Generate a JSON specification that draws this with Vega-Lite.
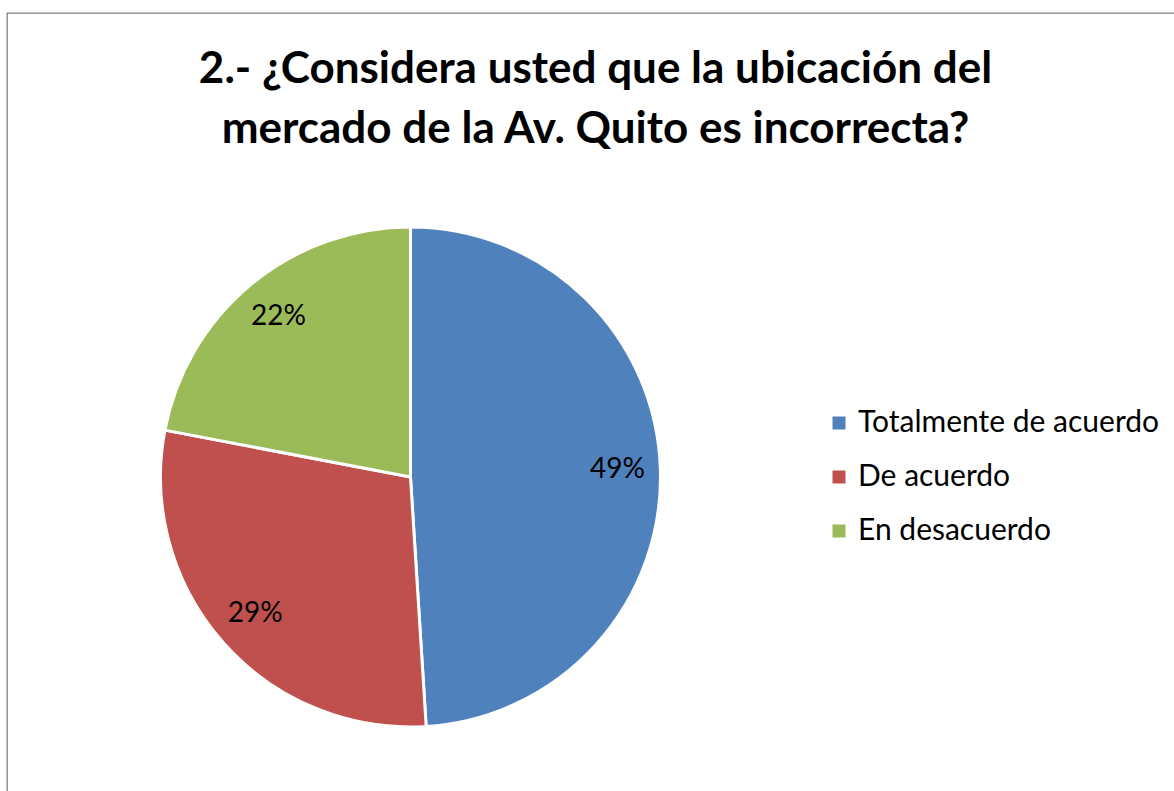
{
  "$schema": "https://vega.github.io/schema/vega-lite/v6.json",
  "autosize": {"type": "none"},
  "padding": {"left": 7, "top": 13, "right": -10, "bottom": -10},
  "width": 1177,
  "height": 788,
  "background": "white",
  "config": {
    "view": {"stroke": "#7f7f7f", "strokeWidth": 1.3},
    "font": "Lato"
  },
  "title": {
    "text": ["2.- ¿Considera usted que la ubicación del", "mercado de la Av. Quito es incorrecta?"],
    "font": "Lato",
    "fontSize": 44,
    "fontWeight": "bold",
    "color": "black",
    "anchor": "middle",
    "frame": "group",
    "baseline": "top",
    "offset": -139,
    "lineHeight": 60
  },
  "data": {
    "values": [
      {"respuesta": "Totalmente de acuerdo", "valor": 49, "orden": 1, "etiqueta": "49%"},
      {"respuesta": "De acuerdo", "valor": 29, "orden": 2, "etiqueta": "29%"},
      {"respuesta": "En desacuerdo", "valor": 22, "orden": 3, "etiqueta": "22%"}
    ]
  },
  "encoding": {
    "theta": {"field": "valor", "type": "quantitative", "stack": true},
    "order": {"field": "orden", "type": "quantitative"},
    "x": {"datum": 0.3428, "type": "quantitative", "scale": {"domain": [0, 1]}, "axis": null},
    "y": {"datum": 0.5888, "type": "quantitative", "scale": {"domain": [1, 0]}, "axis": null},
    "color": {
      "field": "respuesta",
      "type": "nominal",
      "scale": {
        "domain": ["Totalmente de acuerdo", "De acuerdo", "En desacuerdo"],
        "range": ["#4F81BD", "#C0504D", "#9BBB59"]
      },
      "legend": {
        "title": null,
        "orient": "none",
        "legendX": 817,
        "legendY": 395,
        "padding": 0,
        "symbolType": "square",
        "symbolSize": 169,
        "symbolStrokeWidth": 0,
        "labelFontSize": 30,
        "labelFont": "Lato",
        "labelColor": "black",
        "labelOffset": 4,
        "rowPadding": 24,
        "labelLimit": 400
      }
    }
  },
  "layer": [
    {
      "mark": {"type": "arc", "outerRadius": 250, "stroke": "white", "strokeWidth": 3}
    },
    {
      "mark": {"type": "text", "radius": 207, "fontSize": 28, "font": "Lato", "color": "black"},
      "encoding": {
        "text": {"field": "etiqueta", "type": "nominal"},
        "color": {"value": "black"}
      }
    }
  ]
}
